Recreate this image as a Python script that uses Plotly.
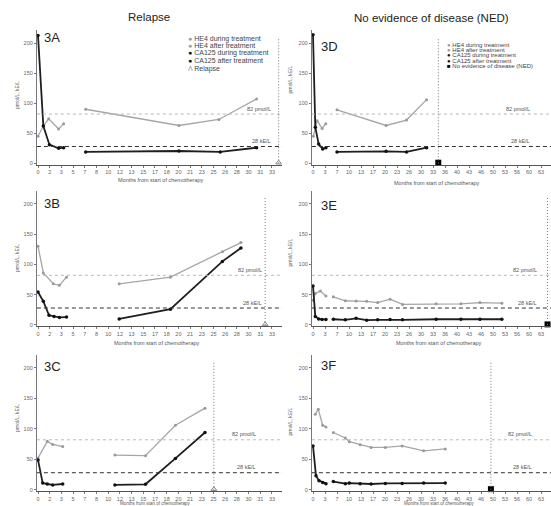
import plotly.graph_objects as go

# ---------------- axis labels ----------------
LEFT_STEP = 1.643   # months between x ticks, relapse column
RIGHT_STEP = 3.285  # months between x ticks, NED column
LEFT_TICK_LABELS = ["0", "2", "3", "5", "7", "8", "10", "12", "13", "15", "17", "18",
                    "20", "21", "23", "25", "26", "28", "30", "31", "33", "35"]
RIGHT_TICK_LABELS = ["0", "3", "7", "10", "13", "17", "20", "23", "26", "30", "33", "36",
                     "40", "43", "46", "50", "53", "56", "60", "63", "66"]
Y_TICKS = [0, 50, 100, 150, 200]
HE4_CUTOFF = 82
CA125_CUTOFF = 28

# ---------------- data (months, value) ----------------
# 3A relapse
A_he4_dur_m = [0, 0.75, 1.5, 2.9, 3.6]
A_he4_dur_v = [45, 62, 74, 57, 66]
A_he4_aft_m = [6.7, 19.8, 25.4, 30.7]
A_he4_aft_v = [90, 63, 73, 107]
A_ca_dur_m = [0, 0.75, 1.6, 2.9, 3.6]
A_ca_dur_v = [213, 62, 31, 25, 26]
A_ca_aft_m = [6.7, 19.8, 25.6, 30.7]
A_ca_aft_v = [19, 20.5, 19, 26]
A_event = 33.8

# 3B relapse
B_he4_dur_m = [0, 0.75, 2.15, 3.0, 4.0]
B_he4_dur_v = [130, 86, 68, 65.5, 79]
B_he4_aft_m = [11.4, 18.6, 25.9, 28.5]
B_he4_aft_v = [68, 79, 121, 136]
B_ca_dur_m = [0, 0.75, 1.55, 2.25, 3.0, 4.0]
B_ca_dur_v = [54.5, 39, 16, 14, 12.5, 13]
B_ca_aft_m = [11.4, 18.6, 25.9, 28.5]
B_ca_aft_v = [10, 26, 105, 127]
B_event = 31.9

# 3C relapse
C_he4_dur_m = [0, 1.3, 2.06, 3.47]
C_he4_dur_v = [52, 79.5, 74.5, 71]
C_he4_aft_m = [10.8, 15.1, 19.3, 23.45]
C_he4_aft_v = [57, 56, 106, 134]
C_ca_dur_m = [0, 0.66, 1.3, 2.06, 3.47]
C_ca_dur_v = [49, 11, 9.5, 8, 9.5]
C_ca_aft_m = [10.8, 15.1, 19.3, 23.45]
C_ca_aft_v = [8, 9, 51.5, 94]
C_event = 24.7

# 3D NED
D_he4_dur_m = [0.1, 1.1, 2.5, 3.5]
D_he4_dur_v = [45, 71, 58, 66]
D_he4_aft_m = [6.57, 20.0, 25.6, 31.1]
D_he4_aft_v = [89, 63, 72, 106]
D_ca_dur_m = [0, 0.63, 1.55, 2.65, 3.55]
D_ca_dur_v = [214, 60, 32, 24, 26]
D_ca_aft_m = [6.57, 20.0, 25.6, 31.1]
D_ca_aft_v = [19, 20, 19, 26]
D_event = 34.3

# 3E NED
E_he4_dur_m = [0, 0.63, 2.0, 3.55]
E_he4_dur_v = [41, 52, 56, 48]
E_he4_aft_m = [5.57, 8.85, 11.8, 14.7, 17.7, 21.1, 24.5, 33.7, 40.5, 45.7, 51.7]
E_he4_aft_v = [46.5, 40, 39.5, 39, 37, 42.5, 34, 35, 35, 37, 36]
E_ca_dur_m = [0, 0.63, 1.55, 2.45, 3.55]
E_ca_dur_v = [64.5, 14, 10, 9, 9]
E_ca_aft_m = [5.57, 8.85, 11.8, 14.7, 17.7, 21.1, 24.5, 33.7, 40.5, 45.7, 51.7]
E_ca_aft_v = [9.5, 8.5, 11, 8, 8.5, 9, 8.5, 9.5, 9.5, 9.5, 9.5]
E_event = 64.2

# 3F NED
F_he4_dur_m = [0.6, 1.45, 2.65, 3.55]
F_he4_dur_v = [124, 132, 106, 103]
F_he4_aft_m = [5.57, 8.85, 9.95, 12.9, 15.9, 19.8, 24.4, 30.3, 36.2]
F_he4_aft_v = [94, 85, 79, 74, 69.5, 69.5, 72, 64, 67]
F_ca_dur_m = [0, 0.82, 1.64, 2.65, 3.55]
F_ca_dur_v = [72, 23, 15, 12, 10]
F_ca_aft_m = [5.57, 8.85, 9.95, 12.9, 15.9, 19.8, 24.4, 30.3, 36.2]
F_ca_aft_v = [13.5, 10, 11, 10, 9.5, 10.5, 10.5, 11, 11]
F_event = 48.7

# ---------------- layout helpers ----------------
W, H = 551, 506
def px(x):
    return x / W
def py(y):
    return 1 - y / H

LEFT_DOM = [px(36.9), px(282)]
RIGHT_DOM = [px(311.9), 1.0]
ROW_DOM = [[py(164.5), py(30)], [py(326.2), py(190.5)], [py(491), py(354.5)]]
LEFT_RANGE = [-0.155, 34.27]
RIGHT_RANGE = [-0.3, 65.15]
Y_RANGE = [-2, 222]

HE4_COL = "#a6a6a6"
CA_COL = "#1e1e1e"
FONT = "Liberation Sans, Arial, sans-serif"

panels = [
    dict(label="3A", col=0, row=0, kind="relapse",
         he4=[(A_he4_dur_m, A_he4_dur_v), (A_he4_aft_m, A_he4_aft_v)],
         ca=[(A_ca_dur_m, A_ca_dur_v), (A_ca_aft_m, A_ca_aft_v)], event=A_event,
         lab=(51.5, 37.5), cut_right=273, ylab=95, xlab=(161, 180)),
    dict(label="3B", col=0, row=1, kind="relapse",
         he4=[(B_he4_dur_m, B_he4_dur_v), (B_he4_aft_m, B_he4_aft_v)],
         ca=[(B_ca_dur_m, B_ca_dur_v), (B_ca_aft_m, B_ca_aft_v)], event=B_event,
         lab=(52, 203), cut_right=264, ylab=258, xlab=(157, 343)),
    dict(label="3C", col=0, row=2, kind="relapse",
         he4=[(C_he4_dur_m, C_he4_dur_v), (C_he4_aft_m, C_he4_aft_v)],
         ca=[(C_ca_dur_m, C_ca_dur_v), (C_ca_aft_m, C_ca_aft_v)], event=C_event,
         lab=(52, 366), cut_right=258, ylab=418, xlab=(155, 503.5)),
    dict(label="3D", col=1, row=0, kind="ned",
         he4=[(D_he4_dur_m, D_he4_dur_v), (D_he4_aft_m, D_he4_aft_v)],
         ca=[(D_ca_dur_m, D_ca_dur_v), (D_ca_aft_m, D_ca_aft_v)], event=D_event,
         lab=(329, 46), cut_right=532, ylab=80, xlab=(437, 183)),
    dict(label="3E", col=1, row=1, kind="ned",
         he4=[(E_he4_dur_m, E_he4_dur_v), (E_he4_aft_m, E_he4_aft_v)],
         ca=[(E_ca_dur_m, E_ca_dur_v), (E_ca_aft_m, E_ca_aft_v)], event=E_event,
         lab=(329, 205), cut_right=539, ylab=253, xlab=(439, 343)),
    dict(label="3F", col=1, row=2, kind="ned",
         he4=[(F_he4_dur_m, F_he4_dur_v), (F_he4_aft_m, F_he4_aft_v)],
         ca=[(F_ca_dur_m, F_ca_dur_v), (F_ca_aft_m, F_ca_aft_v)], event=F_event,
         lab=(328, 365), cut_right=534, ylab=422, xlab=(439, 503.5)),
]

fig = go.Figure()
layout = dict(
    template="none",
    width=W, height=H, margin=dict(l=0, r=0, t=0, b=0, pad=0),
    paper_bgcolor="white", plot_bgcolor="white", showlegend=False,
    font=dict(family=FONT, color="#444"),
)
shapes = []
annotations = []

def note(text, x, y, size, color="#555", xanchor="center", yanchor="middle", **kw):
    d = dict(text=text, xref="paper", yref="paper", x=x, y=y, xanchor=xanchor,
             yanchor=yanchor, showarrow=False, font=dict(size=size, color=color, family=FONT))
    d.update(kw)
    annotations.append(d)

for i, p in enumerate(panels, start=1):
    xa = "x" if i == 1 else f"x{i}"
    ya = "y" if i == 1 else f"y{i}"
    left = p["col"] == 0
    step = LEFT_STEP if left else RIGHT_STEP
    labels = LEFT_TICK_LABELS if left else RIGHT_TICK_LABELS
    layout["xaxis" if i == 1 else f"xaxis{i}"] = dict(
        domain=LEFT_DOM if left else RIGHT_DOM,
        range=LEFT_RANGE if left else RIGHT_RANGE,
        anchor=ya, showgrid=False, zeroline=False, automargin=False,
        showline=True, linecolor="#555", linewidth=1,
        ticks="outside", ticklen=2, tickcolor="#777",
        tickvals=[k * step for k in range(len(labels))], ticktext=labels,
        tickfont=dict(size=5.5, color="#666", family=FONT), tickangle=0,
    )
    layout["yaxis" if i == 1 else f"yaxis{i}"] = dict(
        domain=ROW_DOM[p["row"]], range=Y_RANGE, anchor=xa, automargin=False,
        showgrid=False, zeroline=False, showline=True, linecolor="#777", linewidth=1,
        ticks="outside", ticklen=2, tickcolor="#777", tickvals=Y_TICKS,
        tickfont=dict(size=5.5, color="#666", family=FONT),
    )
    # cutoff lines
    shapes.append(dict(type="line", xref=f"{xa} domain", yref=ya, x0=0, x1=1,
                       y0=HE4_CUTOFF, y1=HE4_CUTOFF,
                       line=dict(color="#b8b8b8", width=1, dash="3px,3px")))
    shapes.append(dict(type="line", xref=f"{xa} domain", yref=ya, x0=0, x1=1,
                       y0=CA125_CUTOFF, y1=CA125_CUTOFF,
                       line=dict(color="#333", width=1, dash="4px,3px")))
    # event line
    shapes.append(dict(type="line", xref=xa, yref=ya, x0=p["event"], x1=p["event"],
                       y0=0, y1=210, line=dict(color="#777", width=1, dash="1px,2px")))
    # series
    for (m, v) in p["he4"]:
        fig.add_trace(go.Scatter(x=m, y=v, xaxis=xa, yaxis=ya, mode="lines+markers",
                                 line=dict(color=HE4_COL, width=1.3),
                                 marker=dict(size=3, color="#9a9a9a"), cliponaxis=False))
    for (m, v) in p["ca"]:
        fig.add_trace(go.Scatter(x=m, y=v, xaxis=xa, yaxis=ya, mode="lines+markers",
                                 line=dict(color=CA_COL, width=1.8),
                                 marker=dict(size=3.5, color="#111"), cliponaxis=False))
    if p["kind"] == "relapse":
        mk = dict(symbol="triangle-up-open", size=5, color="#888", line=dict(width=1, color="#888"))
    else:
        mk = dict(symbol="square", size=6, color="#000")
    fig.add_trace(go.Scatter(x=[p["event"]], y=[1], xaxis=xa, yaxis=ya, mode="markers",
                             marker=mk, cliponaxis=False))
    # cutoff labels
    for val, txt in [(HE4_CUTOFF, f"{HE4_CUTOFF} pmol/L"), (CA125_CUTOFF, f"{CA125_CUTOFF} kE/L")]:
        annotations.append(dict(text=txt, xref="paper", yref=ya,
                                x=px(p["cut_right"]), y=val, xanchor="right", yanchor="bottom",
                                yshift=0.5, showarrow=False,
                                font=dict(size=5.5, color="#555", family=FONT)))
    note(p["label"], px(p["lab"][0]), py(p["lab"][1]), 13, color="#222")
    note("pmol/L, kE/L", px(16.7 if left else 289.5), py(p["ylab"]), 5, textangle=-90)
    note("Months from start of chemotherapy", px(p["xlab"][0]), py(p["xlab"][1]),
         4.5 if p["row"] == 2 else 5.5)

# column titles
note("Relapse", px(149.5), py(17), 11.5, color="#222")
note("No evidence of disease (NED)", px(431.5), py(18), 11.5, color="#222")

# legend blocks (drawn as text)
LEGEND_A = [("●", "#9a9a9a", "HE4 during treatment"),
            ("●", "#9a9a9a", "HE4 after treatment"),
            ("●", "#111", "CA125 during treatment"),
            ("●", "#111", "CA125 after treatment"),
            ("Λ", "#888", "Relapse")]
LEGEND_D = [("●", "#9a9a9a", "HE4 during treatment"),
            ("●", "#9a9a9a", "HE4 after treatment"),
            ("●", "#111", "CA125 during treatment"),
            ("●", "#111", "CA125 after treatment"),
            ("■", "#000", "No evidence of disease (NED)")]
for (sym, col, txt), yy in zip(LEGEND_A, [38.5, 45, 53.3, 61, 69.5]):
    note(f"<span style='color:{col}'>{sym}</span> {txt}", px(185.5), py(yy), 7,
         color="#444", xanchor="left")
for (sym, col, txt), yy in zip(LEGEND_D, [45, 50.2, 55.4, 60.6, 66]):
    note(f"<span style='color:{col}'>{sym}</span> {txt}", px(445.5), py(yy), 6,
         color="#444", xanchor="left")

layout["shapes"] = shapes
layout["annotations"] = annotations
fig.update_layout(**layout)
fig.write_html("out.html", config={"displayModeBar": False},
               post_script="document.body.style.margin='0';document.body.style.overflow='hidden';")
